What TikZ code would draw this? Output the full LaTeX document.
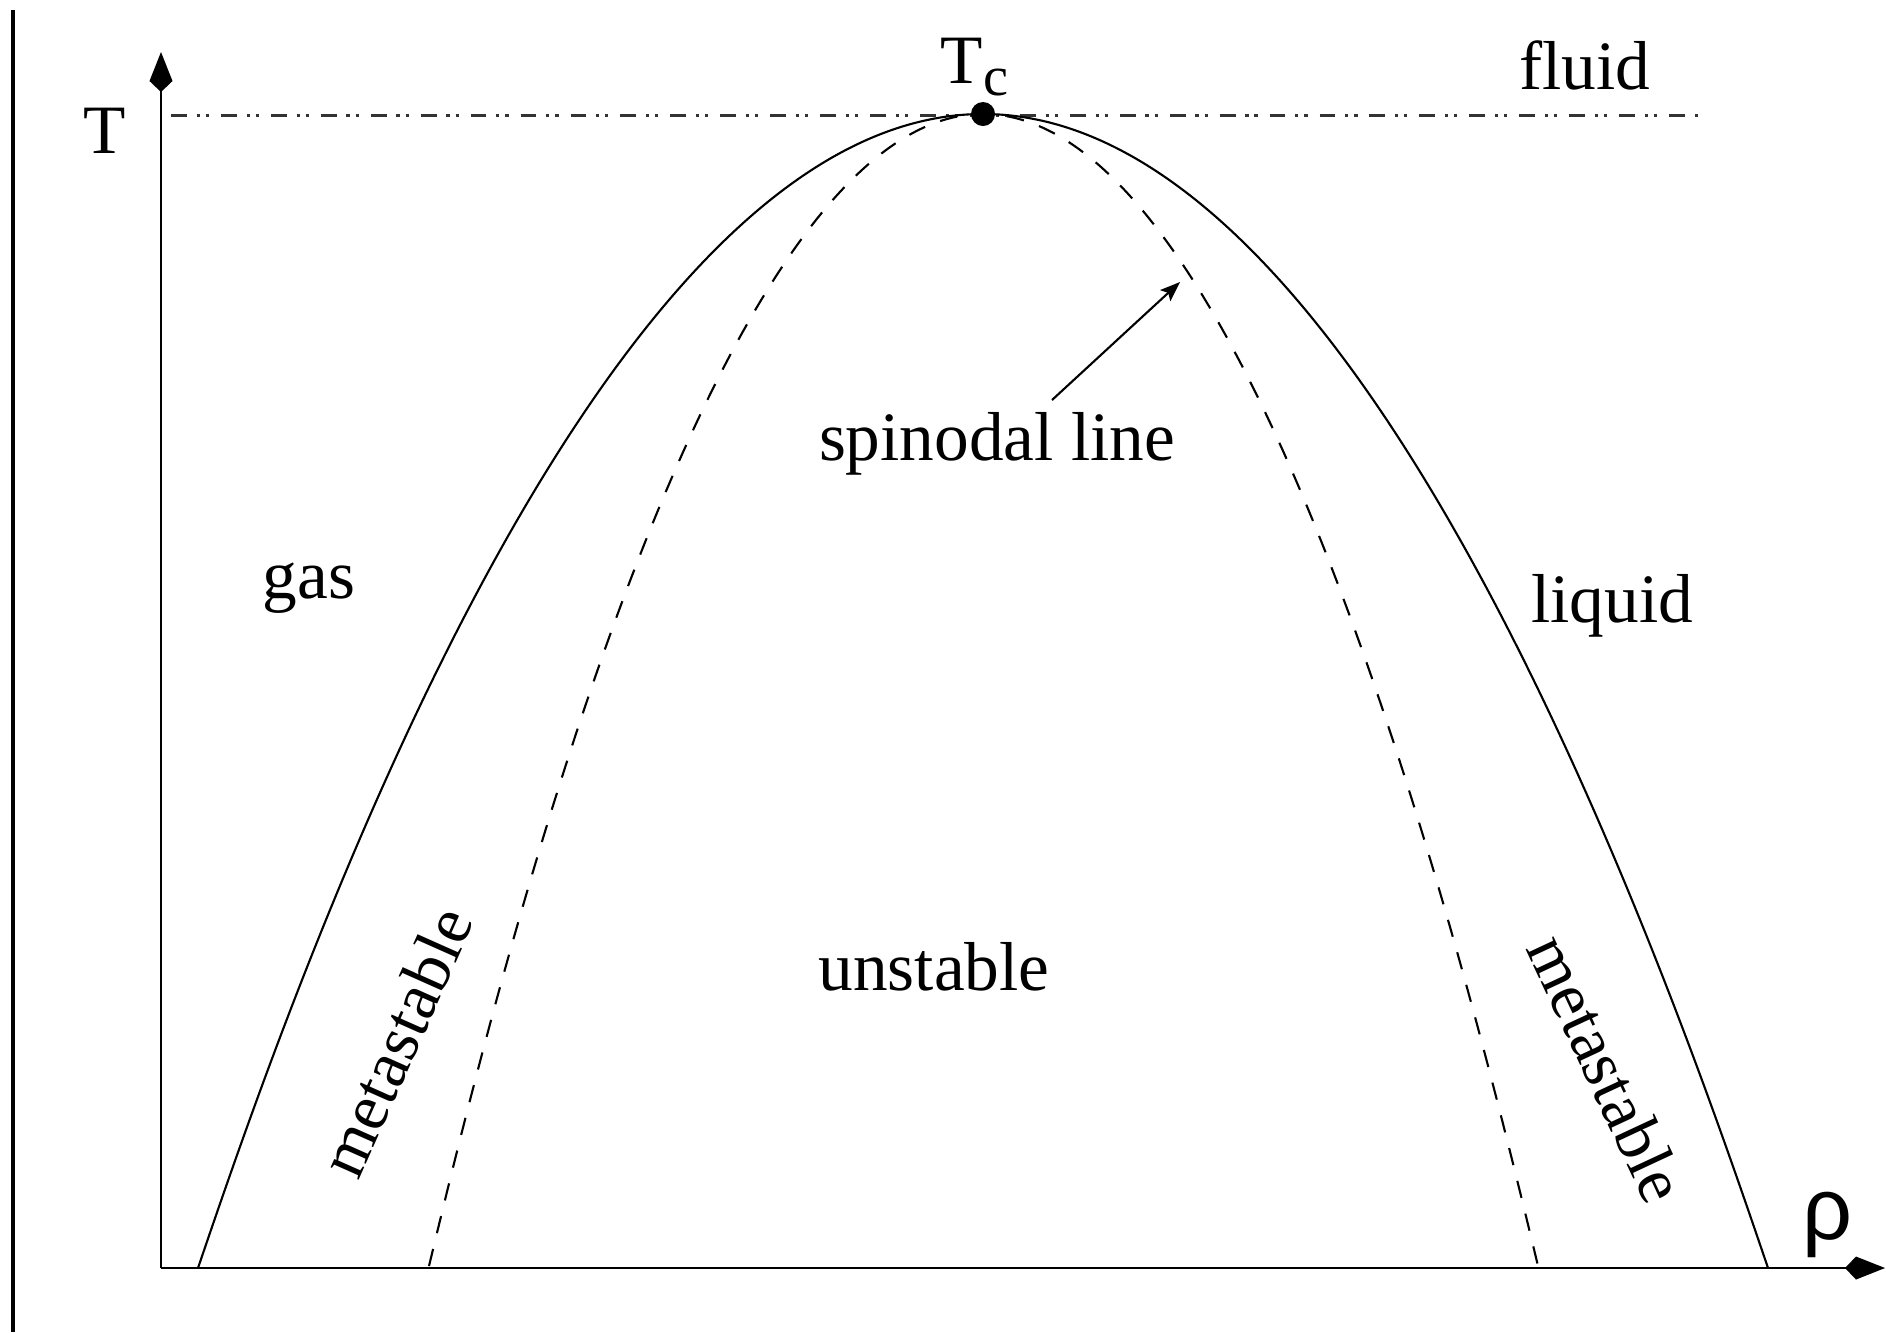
\documentclass[tikz,border=0pt]{standalone}
\usepackage{fontspec}
\setmainfont{Liberation Serif}
\newfontfamily\rhofont{Liberation Sans}
\usetikzlibrary{arrows.meta}
\begin{document}
\begin{tikzpicture}[x=0.01cm,y=-0.01cm,
  lbl/.style={inner sep=0pt, font=\fontsize{19.7}{24}\selectfont},
  axisline/.style={line width=0.6pt, -{Kite[length=0.4cm,width=0.23cm,inset=0.11cm]}},
  binodal/.style={line width=0.6pt},
  spinodal/.style={line width=0.6pt, dash pattern=on 5pt off 4.6pt},
  critline/.style={line width=0.85pt, black!80, dash pattern=on 4.5pt off 2.8pt on 0.9pt off 1.7pt on 0.9pt off 3.4pt},
  pointer/.style={line width=0.6pt, -{Stealth[length=0.2cm,width=0.15cm,inset=0.04cm]}},
  critdot/.style={circle, fill=black, inner sep=0pt, minimum size=0.24cm}
]
\useasboundingbox (0,0) rectangle (1886,1332);
% left border
\draw[line width=1.1pt] (13,10) -- (13,1332);
% axes
\coordinate (O) at (161,1268);
\coordinate (Ytip) at (161,52);
\coordinate (Xtip) at (1885,1268);
\draw[axisline] (O) -- (Ytip);
\draw[axisline] (O) -- (Xtip);
% critical temperature line
\coordinate (cl) at (171,115);
\coordinate (cr) at (1700,115);
\draw[critline] (cl) -- (cr);
% curves
\coordinate (apex) at (983,114);
\draw[binodal] (198,1268) parabola bend (apex) (1768,1268);
\draw[spinodal] (429,1266) parabola bend (apex) (1538,1266);
\node[critdot] (cp) at (apex) {};
% labels
\node[lbl, anchor=base] (Tlab) at (105,153) {T};
\node[lbl, anchor=base west] (Tc) at (940,83) {T\raisebox{-0.12cm}{\fontsize{16}{18}\selectfont c}};
\node[lbl, anchor=base] (fluid) at (1585,89) {fluid};
\node[lbl, anchor=base] (spin) at (997,460) {spinodal line};
\node[lbl, anchor=base] (gas) at (309,598) {gas};
\node[lbl, anchor=base] (liquid) at (1612,622) {liquid};
\node[lbl, anchor=base] (unst) at (934,990) {unstable};
\node[lbl, rotate=66, font=\fontsize{19}{24}\selectfont] (metaL) at (396,1042) {metastable};
\node[lbl, rotate=-65, font=\fontsize{19}{24}\selectfont] (metaR) at (1607,1068) {metastable};
\node[inner sep=0pt, anchor=base, font=\rhofont\fontsize{25}{28}\selectfont] (rho) at (1827,1239) {ρ};
% pointer
\coordinate (pstart) at (1052,400);
\coordinate (ptip) at (1180,282);
\draw[pointer] (pstart) -- (ptip);
\end{tikzpicture}
\end{document}
